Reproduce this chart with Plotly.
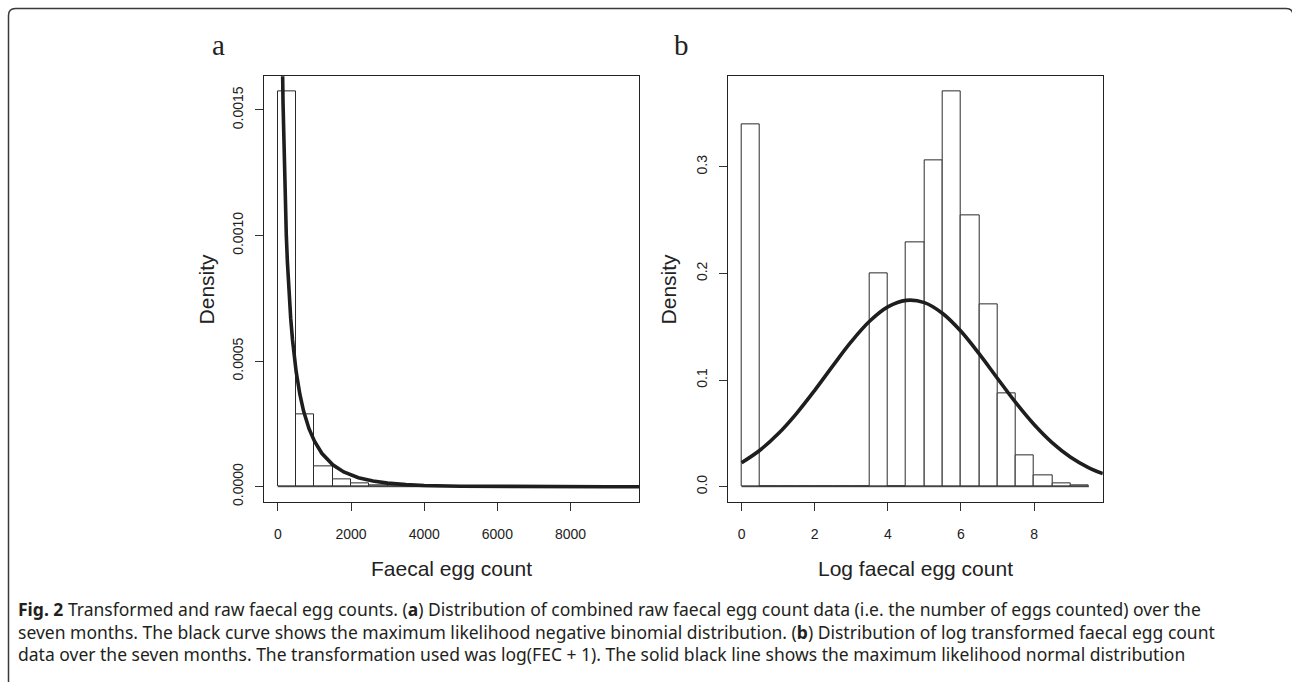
import plotly.graph_objects as go

W, H = 1292, 682

# ---------------- data ----------------
# Panel a: raw faecal egg count histogram (bin width 500), density scale
fec_bin_edges = [0, 500, 1000, 1500, 2000, 2500, 3000, 3500, 4000, 4500, 5000,
                 5500, 6000, 6500, 7000, 7500, 8000, 8500, 9000, 9500]
fec_density = [0.001573, 0.000289, 0.0000792, 0.0000277, 0.0000119, 0.000006,
               0.000004, 0.0000025, 0.0000018, 0.0000012, 0.0000008, 0.0000006,
               0.0000005, 0.0000003, 0.0000003, 0.0000002, 0.0000002, 0.0000001,
               0.0000001]
# fitted negative binomial curve
nb_x = [40, 60, 80, 100, 120, 140, 170, 200, 230, 260, 300, 350, 400, 450, 500,
        600, 700, 850, 1000, 1200, 1500, 1800, 2200, 2600, 3000, 3500, 4000,
        5000, 6000, 7000, 8000, 9000, 9880]
nb_y = [0.00403, 0.00298, 0.00239, 0.00201, 0.00174, 0.00153, 0.00130, 0.00113,
        0.00100, 0.000894, 0.000780, 0.000670, 0.000584, 0.000514, 0.000457,
        0.000368, 0.000302, 0.000231, 0.000181, 0.000133, 0.0000872, 0.0000588,
        0.0000358, 0.0000224, 0.0000142, 0.0000082, 0.0000048, 0.0000017,
        0.0000006, 0.0000002, 0.0000001, 0.00000003, 0.00000001]

# Panel b: log(FEC+1) histogram (bin width 0.5), density scale
log_bin_edges = [0.0, 0.5, 1.0, 1.5, 2.0, 2.5, 3.0, 3.5, 4.0, 4.5, 5.0, 5.5,
                 6.0, 6.5, 7.0, 7.5, 8.0, 8.5, 9.0, 9.5]
log_density = [0.3402, 0, 0, 0, 0, 0, 0, 0.2003, 0, 0.2291, 0.3060, 0.3703,
               0.2540, 0.1713, 0.0877, 0.0292, 0.0103, 0.0028, 0.0008]
# fitted normal curve
norm_x = [0.0, 0.5, 1.0, 1.5, 2.0, 2.5, 3.0, 3.5, 4.0, 4.5, 5.0, 5.5, 6.0, 6.5,
          7.0, 7.5, 8.0, 8.5, 9.0, 9.5, 9.88]
norm_y = [0.0225, 0.0342, 0.0496, 0.0686, 0.0904, 0.1136, 0.1360, 0.1551, 0.1686,
          0.1747, 0.1726, 0.1624, 0.1457, 0.1245, 0.1015, 0.0788, 0.0583, 0.0411,
          0.0276, 0.0177, 0.0122]

xa_ticks = [0, 2000, 4000, 6000, 8000]
ya_ticks = [0, 0.0005, 0.0010, 0.0015]
ya_labels = ["0.0000", "0.0005", "0.0010", "0.0015"]
xb_ticks = [0, 2, 4, 6, 8]
yb_ticks = [0, 0.1, 0.2, 0.3]
yb_labels = ["0.0", "0.1", "0.2", "0.3"]

caption_lines = [
    "<b>Fig. 2</b> Transformed and raw faecal egg counts. (<b>a</b>) Distribution of combined raw faecal egg count data (i.e. the number of eggs counted) over the",
    "seven months. The black curve shows the maximum likelihood negative binomial distribution. (<b>b</b>) Distribution of log transformed faecal egg count",
    "data over the seven months. The transformation used was log(FEC + 1). The solid black line shows the maximum likelihood normal distribution",
]

# ---------------- layout helpers ----------------
def px_x(p):
    return p / W

def px_y(p):
    return 1 - p / H

box_top, box_bot = 76.7, 504.7
a_left, a_right = 264.0, 639.3
b_left, b_right = 727.7, 1102.8

sans = "Liberation Sans, Arial, Helvetica, sans-serif"
ink = "#1e1e1e"

fig = go.Figure()

def centers(edges):
    return [(edges[i] + edges[i + 1]) / 2 for i in range(len(edges) - 1)]

def widths(edges):
    return [edges[i + 1] - edges[i] for i in range(len(edges) - 1)]

# panel a bars
fig.add_trace(go.Bar(x=centers(fec_bin_edges), y=fec_density, width=widths(fec_bin_edges),
                     marker=dict(color="white", line=dict(color="#2a2a2a", width=1)),
                     xaxis="x", yaxis="y", showlegend=False, hoverinfo="skip"))
fig.add_trace(go.Scatter(x=[fec_bin_edges[0], fec_bin_edges[-1]], y=[0, 0], mode="lines",
                         line=dict(color="#2a2a2a", width=1), xaxis="x", yaxis="y",
                         showlegend=False, hoverinfo="skip"))
fig.add_trace(go.Scatter(x=nb_x, y=nb_y, mode="lines", line=dict(color=ink, width=3.6),
                         xaxis="x", yaxis="y", showlegend=False))

# panel b bars
fig.add_trace(go.Bar(x=centers(log_bin_edges), y=log_density, width=widths(log_bin_edges),
                     marker=dict(color="white", line=dict(color="#2a2a2a", width=1)),
                     xaxis="x2", yaxis="y2", showlegend=False, hoverinfo="skip"))
fig.add_trace(go.Scatter(x=[log_bin_edges[0], log_bin_edges[-1]], y=[0, 0], mode="lines",
                         line=dict(color="#2a2a2a", width=1), xaxis="x2", yaxis="y2",
                         showlegend=False, hoverinfo="skip"))
fig.add_trace(go.Scatter(x=norm_x, y=norm_y, mode="lines",
                         line=dict(color=ink, width=3.6, shape="spline", smoothing=1.0),
                         xaxis="x2", yaxis="y2", showlegend=False))

axis_common = dict(showgrid=False, zeroline=False, showline=True, mirror=True,
                   linecolor="#222222", linewidth=1, ticks="outside", ticklen=8,
                   tickcolor="#333333", tickwidth=1,
                   tickfont=dict(family=sans, size=14, color="#222222"))

fig.update_layout(
    width=W, height=H, autosize=False,
    margin=dict(l=0, r=0, t=0, b=0),
    paper_bgcolor="white", plot_bgcolor="white",
    bargap=0,
    xaxis=dict(domain=[px_x(a_left), px_x(a_right)], range=[-380, 9880],
               tickvals=xa_ticks, ticktext=[str(v) for v in xa_ticks],
               anchor="y", ticklabelstandoff=11, **axis_common),
    yaxis=dict(domain=[px_y(box_bot), px_y(box_top)], range=[-0.0000628, 0.0016335],
               tickvals=ya_ticks, ticktext=ya_labels, tickangle=-90,
               anchor="x", ticklabelstandoff=6, **axis_common),
    xaxis2=dict(domain=[px_x(b_left), px_x(b_right)], range=[-0.38, 9.88],
                tickvals=xb_ticks, ticktext=[str(v) for v in xb_ticks],
                anchor="y2", ticklabelstandoff=11, **axis_common),
    yaxis2=dict(domain=[px_y(box_bot), px_y(box_top)], range=[-0.0148, 0.3848],
                tickvals=yb_ticks, ticktext=yb_labels, tickangle=-90,
                anchor="x2", ticklabelstandoff=6, **axis_common),
)

ann = []
# axis titles
ann.append(dict(text="Faecal egg count", x=px_x((a_left + a_right) / 2), y=px_y(571),
                xref="paper", yref="paper", showarrow=False, xanchor="center", yanchor="middle",
                font=dict(family=sans, size=21, color="#222222")))
ann.append(dict(text="Log faecal egg count", x=px_x((b_left + b_right) / 2), y=px_y(571),
                xref="paper", yref="paper", showarrow=False, xanchor="center", yanchor="middle",
                font=dict(family=sans, size=21, color="#222222")))
ann.append(dict(text="Density", x=px_x(206), y=px_y((box_top + box_bot) / 2),
                xref="paper", yref="paper", showarrow=False, textangle=-90,
                xanchor="center", yanchor="middle",
                font=dict(family=sans, size=21, color="#222222")))
ann.append(dict(text="Density", x=px_x(668), y=px_y((box_top + box_bot) / 2),
                xref="paper", yref="paper", showarrow=False, textangle=-90,
                xanchor="center", yanchor="middle",
                font=dict(family=sans, size=21, color="#222222")))
# panel letters
ann.append(dict(text="a", x=px_x(218), y=px_y(45), xref="paper", yref="paper",
                showarrow=False, xanchor="center", yanchor="middle",
                font=dict(family="Liberation Serif, Times New Roman, serif", size=29, color="#222222")))
ann.append(dict(text="b", x=px_x(681), y=px_y(45), xref="paper", yref="paper",
                showarrow=False, xanchor="center", yanchor="middle",
                font=dict(family="Liberation Serif, Times New Roman, serif", size=29, color="#222222")))
# caption
for i, line in enumerate(caption_lines):
    ann.append(dict(text=line, x=px_x(16), y=px_y(612 + 22.5 * i), xref="paper", yref="paper",
                    showarrow=False, xanchor="left", yanchor="middle", align="left",
                    font=dict(family="Noto Sans, Open Sans, sans-serif", size=17.5, color="#231f20")))
fig.update_layout(annotations=ann)

# outer rounded frame
x0, x1 = px_x(8.5), px_x(1293)
yt, yb = px_y(8.5), px_y(700)
rx, ry = 7 / W, 7 / H
path = (f"M {x0},{yb} L {x0},{yt - ry} Q {x0},{yt} {x0 + rx},{yt} "
        f"L {x1 - rx},{yt} Q {x1},{yt} {x1},{yt - ry} L {x1},{yb}")
fig.add_shape(type="path", path=path, xref="paper", yref="paper",
              line=dict(color="#3a3a3a", width=1.5), layer="above")

fig.write_html("out.html")
